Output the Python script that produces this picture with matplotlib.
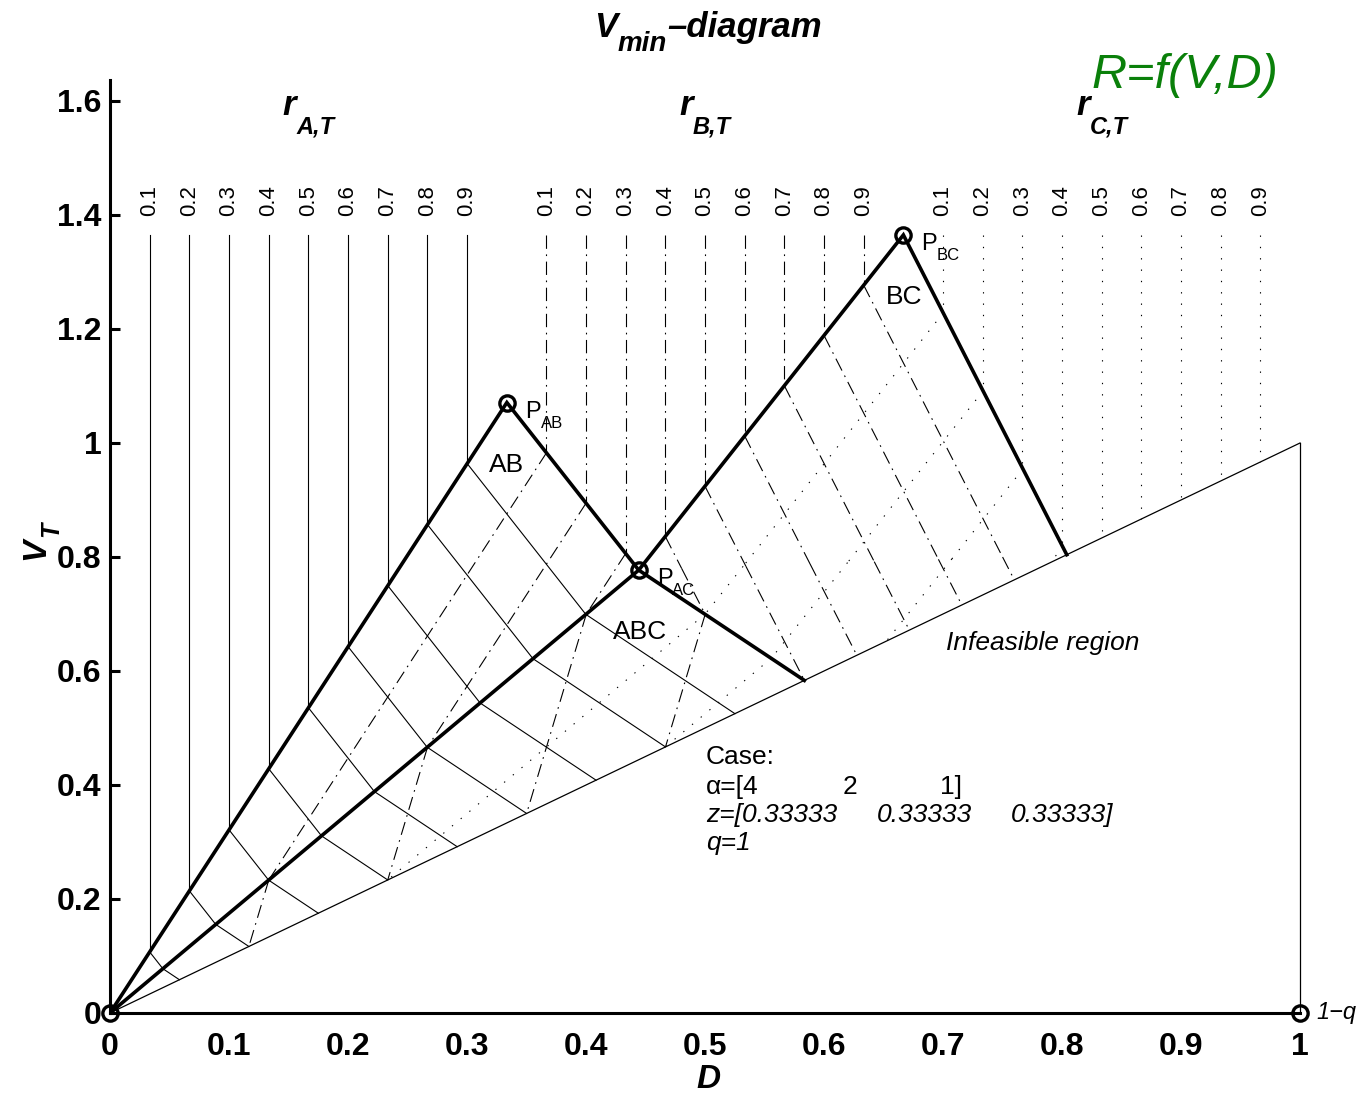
import numpy as np
import matplotlib
matplotlib.use('Agg')
import matplotlib.pyplot as plt
from matplotlib.transforms import offset_copy
from matplotlib.ticker import FuncFormatter

plt.rcParams['font.family'] = ['Liberation Sans', 'DejaVu Sans']

# case shown in the figure
alpha = [4, 2, 1]
z_feed = [0.33333, 0.33333, 0.33333]
q_feed = 1

# corner points of the Vmin diagram (D, V_T)
# order: O, P_AB, P_AC, P_BC, Q1 (end of P_AC boundary), Q2 (end of P_BC boundary)
pts_D = [0.0, 0.3335, 0.4443, 0.6667, 0.5835, 0.8040]
pts_V = [0.0, 1.0710, 0.7770, 1.3650, 0.5835, 0.8040]

# top-product recoveries at those corner points
rec_A = [0, 1, 1, 1, 1, 1]
rec_B = [0, 0, 0.333, 1, 0.5, 1]
rec_C = [0, 0, 0, 0, 0.25, 0.41]

# triangles (indices into the corner points) making up the regions AB, ABC, BC
regions = [(0, 1, 2), (0, 2, 4), (2, 3, 5), (2, 5, 4)]

levels = [0.1, 0.2, 0.3, 0.4, 0.5, 0.6, 0.7, 0.8, 0.9]
V_top = 1.365          # upper end of the vertical recovery lines
V_numbers = 1.426      # height of the rotated 0.1 ... 0.9 labels

region_names = ['AB', 'ABC', 'BC']
region_D = [0.3336, 0.445, 0.667]
region_V = [0.961, 0.668, 1.256]

fig = plt.figure(figsize=(13.63, 10.95), dpi=100)
ax = fig.add_axes([110 / 1363, 82 / 1095, 1190 / 1363, 933 / 1095])
ax.set_xlim(0, 1)
ax.set_ylim(0, 933 / 570)

PD = np.array(pts_D)
PV = np.array(pts_V)
P = np.column_stack([PD, PV])

thin = 0.8
styles = {'A': '-', 'B': (0, (12, 5, 1.5, 5)), 'C': (0, (1.2, 9))}
recs = {'A': rec_A, 'B': rec_B, 'C': rec_C}


def tri_segment(idx, vals, c):
    out = []
    for i, j in ((idx[0], idx[1]), (idx[1], idx[2]), (idx[2], idx[0])):
        fi, fj = vals[i], vals[j]
        if abs(fi - fj) < 1e-12:
            continue
        t = (c - fi) / (fj - fi)
        if -1e-9 <= t <= 1 + 1e-9:
            p = P[i] + t * (P[j] - P[i])
            if not any(np.allclose(p, o, atol=1e-7) for o in out):
                out.append(p)
    return out if len(out) == 2 else None


# upper edge of the lower regions (monotone in D)
bound_D = [PD[0], PD[1], PD[2], PD[3], PD[5], 1.0]
bound_V = [PV[0], PV[1], PV[2], PV[3], PV[5], 1.0]
zone_start = np.concatenate([[0], np.cumsum(z_feed)[:-1]])

# vertical recovery lines above the Vmin boundary + contours inside regions
for k, comp in enumerate('ABC'):
    for r in levels:
        d = zone_start[k] + z_feed[k] * r
        vb = np.interp(d, bound_D, bound_V)
        ax.plot([d, d], [V_top, vb], color='k', lw=thin, ls=styles[comp])
        ax.text(d, V_numbers, f'{r:g}', rotation=90, ha='center', va='center',
                fontsize=16)
        for idx in regions:
            seg = tri_segment(idx, recs[comp], r)
            if seg is not None:
                ax.plot([seg[0][0], seg[1][0]], [seg[0][1], seg[1][1]],
                        color='k', lw=thin, ls=styles[comp])

# feasibility limit V = D and D = 1
ax.plot([0, 1], [0, 1], color='k', lw=0.9, clip_on=False)
ax.plot([1, 1], [0, 1], color='k', lw=0.9, clip_on=False)

# Vmin boundaries
ax.plot(PD[[0, 1, 2, 4]], PV[[0, 1, 2, 4]], color='k', lw=2.6, solid_joinstyle='miter')
ax.plot(PD[[0, 2, 3, 5]], PV[[0, 2, 3, 5]], color='k', lw=2.6, solid_joinstyle='miter')

mk_D = [PD[0], PD[1], PD[2], PD[3], 1.0]
mk_V = [PV[0], PV[1], PV[2], PV[3], 0.0]
ax.plot(mk_D, mk_V, ls='none', marker='o', ms=11, mfc='none', mec='k', mew=2.4,
        clip_on=False, zorder=5)

renderer = fig.canvas.get_renderer()


def compose(x, y, parts, transform, center=False, dx=0, dy=0, **kw):
    texts = [ax.text(x, y, s, fontsize=fs, ha='left', va='baseline',
                     transform=transform, **kw) for s, fs, _ in parts]
    widths = [t.get_window_extent(renderer).width for t in texts]
    x0 = dx - (sum(widths) / 2 if center else 0)
    for t, w, (s, fs, drop) in zip(texts, widths, parts):
        t.set_transform(offset_copy(transform, fig=fig, x=x0, y=dy - drop, units='dots'))
        x0 += w
    return texts


# P labels
for i, sub in ((1, 'AB'), (2, 'AC'), (3, 'BC')):
    compose(PD[i], PV[i], [('P', 17, 0), (sub, 12, 10)], ax.transData, dx=18, dy=-15)

for name, d, v in zip(region_names, region_D, region_V):
    ax.text(d, v, name, fontsize=19, ha='center', va='center')

# group headers r_{X,T}
for k, comp in enumerate('ABC'):
    compose(zone_start[k] + z_feed[k] / 2, 1.575,
            [('r', 25, 0), (f'{comp},T', 17, 18)], ax.transData, center=True,
            fontweight='bold', style='italic')

# case description
ax.text(0.5008, 0.449, 'Case:', fontsize=19, va='center')
ax.text(0.5008, 0.396, f'\u03b1=[{alpha[0]}', fontsize=19, va='center')
ax.text(0.616, 0.396, f'{alpha[1]}', fontsize=19, va='center')
ax.text(0.6975, 0.396, f'{alpha[2]}]', fontsize=19, va='center')
ax.text(0.5008, 0.347, f'z=[{z_feed[0]:.5f}', fontsize=19, va='center', style='italic')
ax.text(0.6445, 0.347, f'{z_feed[1]:.5f}', fontsize=19, va='center', style='italic')
ax.text(0.757, 0.347, f'{z_feed[2]:.5f}]', fontsize=19, va='center', style='italic')
ax.text(0.5008, 0.298, f'q={q_feed}', fontsize=19, va='center', style='italic')

ax.text(0.7025, 0.649, 'Infeasible region', fontsize=19, va='center', style='italic')
ax.text(1.0, 0.0, '1\u2212q', fontsize=17, va='center', style='italic',
        transform=offset_copy(ax.transData, fig=fig, x=16, y=0, units='dots'))

# title and labels
compose(708 / 1363, 1 - 37 / 1095, [('V', 25, 0), ('min', 20, 14), ('\u2013diagram', 25, 0)],
        fig.transFigure, center=True, fontweight='bold', style='italic')
fig.text(1185 / 1363, 1 - 88 / 1095, 'R=f(V,D)', fontsize=35, color='#0a800a',
         style='italic', ha='center', va='baseline')
fig.text(708 / 1363, 1 - 1080 / 1095, 'D', fontsize=24, fontweight='bold',
         style='italic', ha='center', va='center')
fig.text(44 / 1363, 1 - 560 / 1095, 'V', fontsize=24, fontweight='bold', style='italic',
         rotation=90, rotation_mode='anchor', ha='left', va='baseline')
fig.text(58 / 1363, 1 - 537 / 1095, 'T', fontsize=18, fontweight='bold', style='italic',
         rotation=90, rotation_mode='anchor', ha='left', va='baseline')

# axes styling
for s in ('top', 'right'):
    ax.spines[s].set_visible(False)
for s in ('left', 'bottom'):
    ax.spines[s].set_linewidth(2.2)
ax.set_xticks(np.arange(0, 1.01, 0.1))
ax.set_yticks(np.arange(0, 1.61, 0.2))
fmt = FuncFormatter(lambda v, _: f'{v:.1f}'.rstrip('0').rstrip('.') if v else '0')
ax.xaxis.set_major_formatter(fmt)
ax.yaxis.set_major_formatter(fmt)
ax.tick_params(axis='y', direction='in', length=7, width=2.2, labelsize=23, pad=6)
ax.tick_params(axis='x', direction='in', length=0, labelsize=23, pad=14)
for lab in ax.get_xticklabels() + ax.get_yticklabels():
    lab.set_fontweight('bold')

fig.savefig('out.png', dpi=100)
